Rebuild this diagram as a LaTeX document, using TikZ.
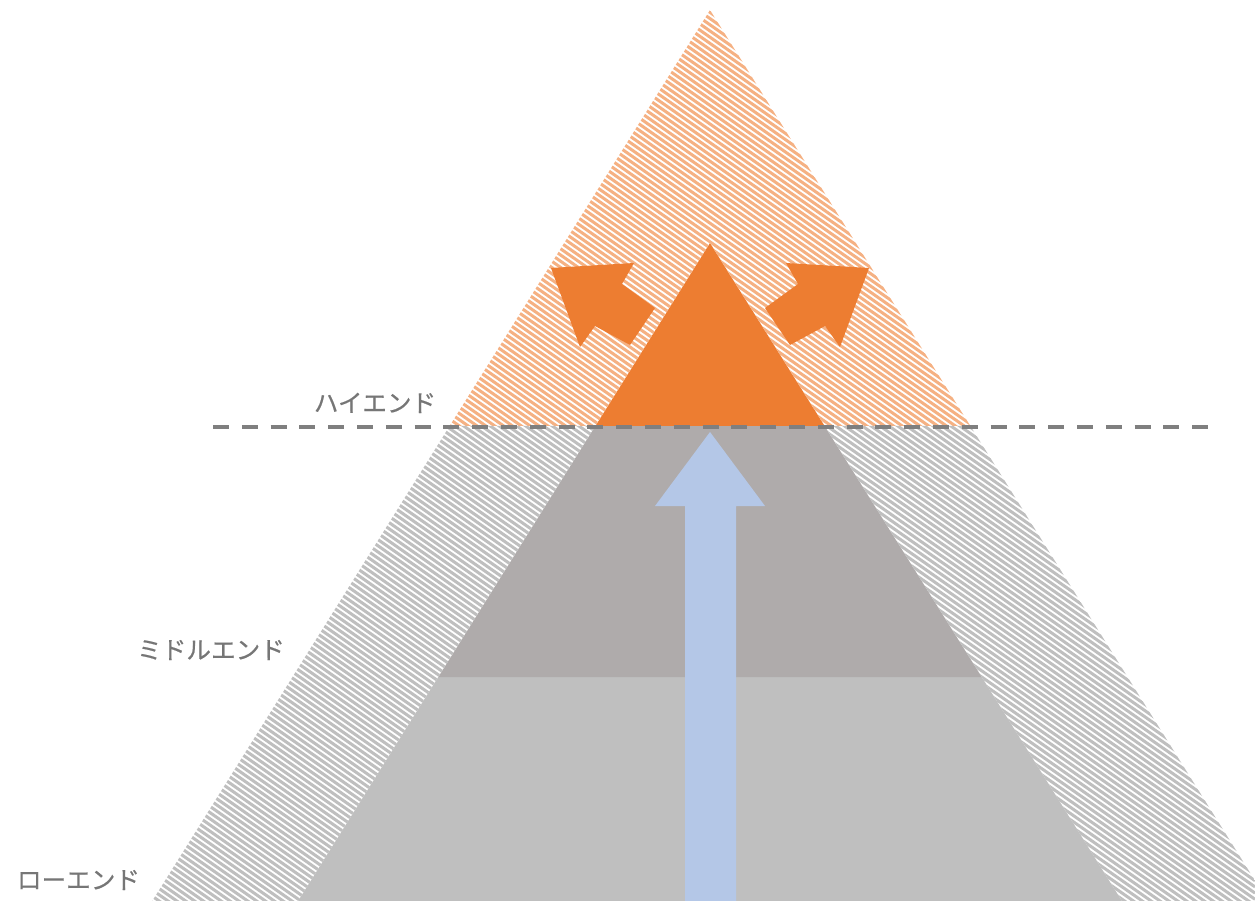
\documentclass[tikz,border=0pt]{standalone}
\usepackage{fontspec}
\newfontfamily\jp[FakeBold=0.5]{Noto Sans CJK JP}
\definecolor{orng}{HTML}{ED7D31}
\definecolor{orhatch}{HTML}{F5B183}
\definecolor{grhatch}{HTML}{BFBFBF}
\definecolor{midgray}{HTML}{AFABAB}
\definecolor{lowgray}{HTML}{BFBFBF}
\definecolor{bluearr}{HTML}{B4C7E7}
\definecolor{dashgray}{HTML}{7F7F7F}
\definecolor{txtgray}{HTML}{767676}
\begin{document}
\begin{tikzpicture}[x=0.2mm,y=-0.2mm,
  hatchline/.style={line width=0.6mm},
  lbl/.style={font=\jp\fontsize{14}{16}\selectfont, text=txtgray, inner sep=0pt},
  dashline/.style={draw=dashgray, line width=0.65mm, dash pattern=on 3.2mm off 2.56mm}]
\useasboundingbox (0,0) rectangle (1255,901);
\begin{scope}
\clip (0,0) rectangle (1255,901);
% bands of inner triangle
\fill[lowgray] (438.3,677) -- (981.7,677) -- (1121.9,901) -- (298.1,901) -- cycle;
\fill[midgray] (595.4,426) -- (824.6,426) -- (981.7,677) -- (438.3,677) -- cycle;
\fill[orng] (710,243) -- (824.6,426) -- (595.4,426) -- cycle;
% orange hatch
\begin{scope}
\clip (710,10) -- (970.4,426) -- (824.6,426) -- (710,243) -- (595.4,426) -- (449.6,426) -- cycle;
\foreach \c in {-900,-893.8,...,440} \draw[hatchline, orhatch] (0,\c) -- (1255,\c+878.5);
\end{scope}
% gray hatch
\begin{scope}
\clip (449.6,426) -- (595.4,426) -- (298.1,901) -- (152.2,901) -- cycle
      (824.6,426) -- (970.4,426) -- (1267.8,901) -- (1121.9,901) -- cycle;
\foreach \c in {-500,-493.8,...,910} \draw[hatchline, grhatch] (0,\c) -- (1255,\c+878.5);
\end{scope}
% orange arrows
\fill[orng] (551,268) -- (634,263) -- (622,284) -- (655,308) -- (630,345) -- (595,326) -- (580,347) -- cycle;
\fill[orng] (869,268) -- (786,263) -- (798,284) -- (765,308) -- (790,345) -- (825,326) -- (840,347) -- cycle;
% blue arrow
\fill[bluearr] (710,432) -- (765,506) -- (736,506) -- (736,901) -- (685,901) -- (685,506) -- (655,506) -- cycle;
% dashed line
\coordinate (dl) at (213,427);
\coordinate (dr) at (1208,427);
\draw[dashline] (dl) -- (dr);
\end{scope}
% labels
\node[lbl] (high) at (375,403) {ハイエンド};
\node[lbl] (mid) at (211,650) {ミドルエンド};
\node[lbl] (low) at (78.5,880) {ローエンド};
\end{tikzpicture}
\end{document}
